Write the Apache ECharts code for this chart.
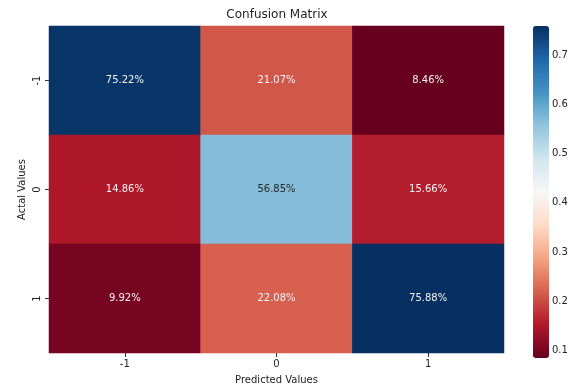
<!DOCTYPE html>
<html>
<head>
<meta charset="utf-8">
<script src="https://cdn.jsdelivr.net/npm/echarts@6/dist/echarts.min.js"></script>
<style>
  html, body { margin: 0; padding: 0; background: #fff; }
  #chart { width: 573px; height: 390px; }
</style>
</head>
<body>
<div id="chart"></div>
<script>
// Class labels for both axes
const predictedLabels = ['-1', '0', '1'];
const actualLabels = ['-1', '0', '1'];

// Row-normalised rates, one array per actual class
const rowMinus1 = [0.7522, 0.2107, 0.0846];
const rowZero = [0.1486, 0.5685, 0.1566];
const rowPlus1 = [0.0992, 0.2208, 0.7588];

// Colour bar tick values
const colorbarTicks = [0.1, 0.2, 0.3, 0.4, 0.5, 0.6, 0.7];

// RdBu diverging palette
const rdbu = ['#67001f', '#b2182b', '#d6604d', '#f4a582', '#fddbc7', '#f7f7f7',
              '#d1e5f0', '#92c5de', '#4393c3', '#2166ac', '#053061'];

const rows = [rowMinus1, rowZero, rowPlus1];
const allValues = rows.flat();
const vMin = Math.min(...allValues);
const vMax = Math.max(...allValues);

const FONT = 'DejaVu Sans';

const cells = [];
rows.forEach((row, yi) => {
  row.forEach((v, xi) => {
    const t = (v - vMin) / (vMax - vMin);
    const light = t > 0.35 && t < 0.75;
    cells.push({
      value: [xi, yi, v],
      label: { color: light ? '#262626' : '#f2f2f2' }
    });
  });
});

const chart = echarts.init(document.getElementById('chart'));
chart.setOption({
  animation: false,
  backgroundColor: '#ffffff',
  title: {
    text: 'Confusion Matrix',
    left: 277,
    textAlign: 'center',
    top: 9,
    padding: 0,
    textStyle: { fontFamily: FONT, fontSize: 12, fontWeight: 'normal', color: '#222' }
  },
  grid: [
    { left: 49, right: 69, top: 26, bottom: 32 },
    { left: 533, width: 16, top: 26, height: 332 }
  ],
  xAxis: [
    {
      type: 'category',
      data: predictedLabels,
      gridIndex: 0,
      position: 'bottom',
      name: 'Predicted Values',
      nameLocation: 'middle',
      nameGap: 22,
      nameTextStyle: { fontFamily: FONT, fontSize: 10, color: '#222' },
      axisLine: { show: false },
      axisTick: { show: true, alignWithLabel: true, length: 4, lineStyle: { color: '#333' } },
      axisLabel: { fontFamily: FONT, fontSize: 10, color: '#222', margin: 6 },
      splitLine: { show: false }
    },
    {
      type: 'value',
      gridIndex: 1,
      show: false
    }
  ],
  yAxis: [
    {
      type: 'category',
      data: actualLabels,
      gridIndex: 0,
      inverse: true,
      name: 'Actal Values',
      nameLocation: 'middle',
      nameGap: 22,
      nameMoveOverlap: false,
      nameTextStyle: { fontFamily: FONT, fontSize: 10, color: '#222' },
      axisLine: { show: false },
      axisTick: { show: true, alignWithLabel: true, length: 4, lineStyle: { color: '#333' } },
      axisLabel: { fontFamily: FONT, fontSize: 10, color: '#222', rotate: 90, margin: 7 },
      splitLine: { show: false }
    },
    {
      type: 'value',
      gridIndex: 1,
      position: 'right',
      min: vMin,
      max: vMax,
      axisLine: { show: false },
      splitLine: { show: false },
      axisTick: { show: true, length: 4, customValues: colorbarTicks, lineStyle: { color: '#333' } },
      axisLabel: {
        show: true,
        customValues: colorbarTicks,
        formatter: v => Number(v).toFixed(1),
        fontFamily: FONT, fontSize: 10, color: '#222', margin: 3
      }
    }
  ],
  visualMap: {
    type: 'continuous',
    min: vMin,
    max: vMax,
    seriesIndex: 0,
    calculable: false,
    left: 533,
    top: 26,
    padding: 0,
    itemWidth: 16,
    itemHeight: 332,
    orient: 'vertical',
    hoverLink: false,
    inRange: { color: rdbu }
  },
  series: [{
    type: 'heatmap',
    xAxisIndex: 0,
    yAxisIndex: 0,
    data: cells,
    label: {
      show: true,
      fontFamily: FONT,
      fontSize: 10,
      formatter: p => (p.value[2] * 100).toFixed(2) + '%'
    },
    itemStyle: { borderWidth: 0 }
  }]
});
</script>
</body>
</html>
